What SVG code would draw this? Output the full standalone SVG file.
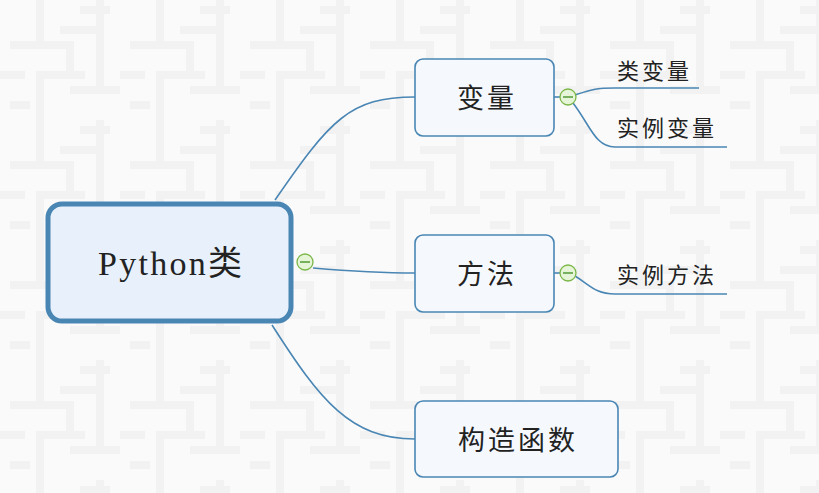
<svg xmlns="http://www.w3.org/2000/svg" width="819" height="493" viewBox="0 0 819 493">
<defs>
<pattern id="bg" width="120" height="120" patternUnits="userSpaceOnUse">
<rect width="120" height="120" fill="#fafafa"/>
<g fill="none" stroke="#f2f2f2" stroke-width="8">
<path d="M40,0 V45 H10 M40,45 H70 V75 H40 V120"/>
<path d="M0,75 H25 M55,75 H85 M100,0 V30 H60 M100,30 V90 H70 M100,90 H120"/>
<path d="M10,105 H30 M80,10 H110"/>
</g>
</pattern>
</defs>
<style>
.node{fill:#f5f8fd;stroke:#4a86b4;stroke-width:1.6}
.link{fill:none;stroke:#4a86b4;stroke-width:1.6}
.t{font-family:"Liberation Serif","Noto Sans CJK SC",serif;fill:#222}
.lbl{font-size:27px;text-anchor:middle;letter-spacing:3px}
.leaf{font-size:22px;letter-spacing:3px}
.btn circle{fill:#e6f5d8;stroke:#7ab648;stroke-width:1.3}
.btn line{stroke:#3c8a1c;stroke-width:1.3}
</style>
<rect width="819" height="493" fill="url(#bg)"/>
<g id="connectors">
<path class="link" d="M275,200 C330,120 350,97 415,97"/>
<path class="link" d="M313,268 C360,272 380,273 415,273"/>
<path class="link" d="M272,325 C320,400 350,439 415,439"/>
<path class="link" d="M554,97 H561"/>
<path class="link" d="M554,273 H561"/>
<path class="link" d="M575,95 C590,90 595,88 615,88 H699"/>
<path class="link" d="M573,103 C590,125 595,147 615,147 H727"/>
<path class="link" d="M575,276 C590,285 595,294 615,294 H727"/>
</g>
<g id="root">
<rect x="48" y="204" width="243" height="117" rx="14" fill="#e8f1fb" stroke="#4a86b4" stroke-width="5"/>
<text class="t" x="98" y="275" font-size="34" textLength="144" lengthAdjust="spacing">Python类</text>
</g>
<g id="btn-root" class="btn"><circle cx="305" cy="262" r="8"/><line x1="300" y1="262" x2="310" y2="262"/></g>
<g id="n-bianliang">
<rect class="node" x="415" y="59" width="139" height="77" rx="8"/>
<text class="t lbl" x="487" y="108">变量</text>
</g>
<g id="btn-bianliang" class="btn"><circle cx="568" cy="97" r="8"/><line x1="563" y1="97" x2="573" y2="97"/></g>
<g id="n-leibianliang"><text class="t leaf" x="617" y="79">类变量</text></g>
<g id="n-shilibianliang"><text class="t leaf" x="617" y="136">实例变量</text></g>
<g id="n-fangfa">
<rect class="node" x="415" y="235" width="139" height="77" rx="8"/>
<text class="t lbl" x="487" y="284">方法</text>
</g>
<g id="btn-fangfa" class="btn"><circle cx="568" cy="273" r="8"/><line x1="563" y1="273" x2="573" y2="273"/></g>
<g id="n-shilifangfa"><text class="t leaf" x="617" y="283">实例方法</text></g>
<g id="n-gouzao">
<rect class="node" x="415" y="401" width="203" height="76" rx="8"/>
<text class="t lbl" x="518" y="450">构造函数</text>
</g>
</svg>
